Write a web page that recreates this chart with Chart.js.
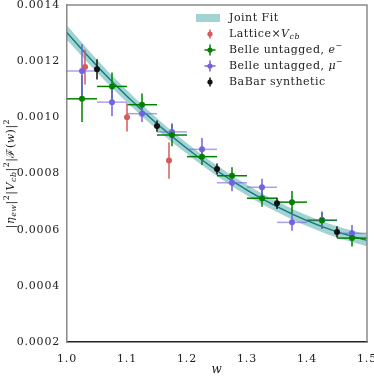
<!DOCTYPE html>
<html>
<head>
<meta charset="utf-8">
<script src="https://cdn.jsdelivr.net/npm/chart.js@4.4.1/dist/chart.umd.min.js"></script>
<style>
  html, body { margin: 0; padding: 0; background: #fff; }
  #wrap { width: 374px; height: 376px; }
</style>
</head>
<body>
<div id="wrap"><canvas id="chart" width="374" height="376"></canvas></div>
<script>
// values (y in units of 1)
const yTicks = [0.0002, 0.0004, 0.0006, 0.0008, 0.0010, 0.0012, 0.0014];
const xTicks = [1.0, 1.1, 1.2, 1.3, 1.4, 1.5];

const wFit = [1.0, 1.05, 1.1, 1.15, 1.2, 1.25, 1.3, 1.35, 1.4, 1.45, 1.5];
const fitCentral = [1.301e-3, 1.183e-3, 1.075e-3, 0.977e-3, 0.889e-3, 0.810e-3, 0.741e-3, 0.682e-3, 0.632e-3, 0.592e-3, 0.562e-3];
const fitErr = [26e-6, 23e-6, 21e-6, 20e-6, 19e-6, 19e-6, 19e-6, 19e-6, 19e-6, 20e-6, 21e-6];

const wBelle = [1.025, 1.075, 1.125, 1.175, 1.225, 1.275, 1.325, 1.375, 1.425, 1.475];
const wBinHalf = 0.025;
const belleE = [1.066e-3, 1.110e-3, 1.045e-3, 0.937e-3, 0.860e-3, 0.792e-3, 0.712e-3, 0.698e-3, 0.633e-3, 0.570e-3];
const belleEErr = [83e-6, 50e-6, 40e-6, 40e-6, 30e-6, 30e-6, 30e-6, 40e-6, 30e-6, 30e-6];
const belleMu = [1.165e-3, 1.054e-3, 1.013e-3, 0.948e-3, 0.886e-3, 0.767e-3, 0.751e-3, 0.626e-3, 0.635e-3, 0.587e-3];
const belleMuErr = [95e-6, 50e-6, 30e-6, 30e-6, 40e-6, 30e-6, 30e-6, 30e-6, 30e-6, 30e-6];

const wBabar = [1.05, 1.15, 1.25, 1.35, 1.45];
const babar = [1.171e-3, 0.969e-3, 0.816e-3, 0.694e-3, 0.592e-3];
const babarErr = [36e-6, 20e-6, 20e-6, 20e-6, 20e-6];

const wLattice = [1.03, 1.10, 1.17];
const lattice = [1.179e-3, 1.000e-3, 0.846e-3];
const latticeErr = [62e-6, 50e-6, 65e-6];

const SERIF = '"DejaVu Serif", serif';
const RED = '#d65a5a';
const GREEN = '#008000';
const PURPLE = '#7163e0';
const BLACK = '#111111';
const TEAL = '#0b7b7b';
const BAND = 'rgba(70,165,165,0.5)';

const pts = (xs, ys) => xs.map((x, i) => ({ x: x, y: ys[i] }));

const errSets = [
  { w: wBelle, v: belleE, e: belleEErr, xe: wBinHalf, color: GREEN, hColor: GREEN },
  { w: wBelle, v: belleMu, e: belleMuErr, xe: wBinHalf, color: PURPLE, hColor: 'rgba(113,99,224,0.6)' },
  { w: wLattice, v: lattice, e: latticeErr, xe: 0, color: RED, hColor: RED },
  { w: wBabar, v: babar, e: babarErr, xe: 0, color: BLACK, hColor: BLACK }
];

// error bars go on top of the fit, under the markers
const errorBars = {
  id: 'errorBars',
  afterDatasetDraw(chart, args) {
    if (args.index !== 2) return;
    const ctx = chart.ctx, xs = chart.scales.x, ys = chart.scales.y;
    ctx.save();
    ctx.lineWidth = 1.5;
    errSets.forEach(s => {
      s.w.forEach((w, i) => {
        const px = xs.getPixelForValue(w);
        const py = ys.getPixelForValue(s.v[i]);
        if (s.xe) {
          ctx.strokeStyle = s.hColor;
          ctx.beginPath();
          ctx.moveTo(xs.getPixelForValue(w - s.xe), py);
          ctx.lineTo(xs.getPixelForValue(w + s.xe), py);
          ctx.stroke();
        }
        ctx.strokeStyle = s.color;
        ctx.beginPath();
        ctx.moveTo(px, ys.getPixelForValue(s.v[i] - s.e[i]));
        ctx.lineTo(px, ys.getPixelForValue(s.v[i] + s.e[i]));
        ctx.stroke();
      });
    });
    ctx.restore();
  }
};

// draws a list of [text, style] pieces; style: i = italic, sub, sup
function richText(ctx, parts, x, y, size) {
  let cx = x;
  parts.forEach(p => {
    const st = p[1] || '';
    const small = st.includes('sub') || st.includes('sup');
    const fs = small ? size * 0.72 : size;
    ctx.font = (st.includes('i') ? 'italic ' : '') + fs + 'px ' + SERIF;
    let dy = 0;
    if (st.includes('sub')) dy = size * 0.3;
    if (st.includes('sup')) dy = -size * 0.38;
    ctx.fillText(p[0], cx, y + dy);
    cx += ctx.measureText(p[0]).width;
  });
  return cx - x;
}

const decorations = {
  id: 'decorations',
  beforeDraw(chart) {
    chart.ctx.letterSpacing = '0.8px';
  },
  afterDraw(chart) {
    const ctx = chart.ctx, a = chart.chartArea;
    ctx.save();
    // top and right spines
    ctx.strokeStyle = '#8a8a8a';
    ctx.lineWidth = 1.5;
    ctx.beginPath();
    ctx.moveTo(a.left, a.top);
    ctx.lineTo(a.right, a.top);
    ctx.lineTo(a.right, a.bottom);
    ctx.stroke();

    ctx.fillStyle = '#222';
    ctx.textBaseline = 'middle';
    ctx.letterSpacing = '0.5px';

    // x title
    ctx.textAlign = 'center';
    ctx.font = 'italic 12px ' + SERIF;
    ctx.fillText('w', (a.left + a.right) / 2, 370);

    // y title
    const yTitle = [['|'], ['η', 'i'], ['ew', 'i sub'], ['|'], ['2', 'sup'], ['|'], ['V', 'i'], ['cb', 'i sub'],
      ['|'], ['2', 'sup'], ['|ℱ('], ['w', 'i'], [')|'], ['2', 'sup']];
    ctx.textAlign = 'left';
    ctx.save();
    ctx.translate(11, (a.top + a.bottom) / 2);
    ctx.rotate(-Math.PI / 2);
    ctx.globalAlpha = 0;
    const tw = richText(ctx, yTitle, 0, 0, 11);
    ctx.globalAlpha = 1;
    richText(ctx, yTitle, -tw / 2, 0, 11);
    ctx.restore();

    // legend
    const lx = 229, mx = 210;
    const rows = [18, 34, 50, 66, 82];
    ctx.fillStyle = BAND;
    ctx.fillRect(196, rows[0] - 4, 24, 8);
    const marks = [[RED, 0, 4.5], [GREEN, 5.5, 5.5], [PURPLE, 5.5, 5.5], [BLACK, 0, 4.5]];
    marks.forEach((m, i) => {
      const y = rows[i + 1];
      ctx.strokeStyle = m[0];
      ctx.lineWidth = 1.5;
      ctx.beginPath();
      ctx.moveTo(mx, y - m[2]);
      ctx.lineTo(mx, y + m[2]);
      if (m[1]) {
        ctx.moveTo(mx - m[1], y);
        ctx.lineTo(mx + m[1], y);
      }
      ctx.stroke();
      ctx.fillStyle = m[0];
      ctx.beginPath();
      ctx.arc(mx, y, 2.6, 0, Math.PI * 2);
      ctx.fill();
    });
    ctx.fillStyle = '#222';
    const labels = [
      [['Joint Fit']],
      [['Lattice×'], ['V', 'i'], ['cb', 'i sub']],
      [['Belle untagged, '], ['e', 'i'], ['−', 'sup']],
      [['Belle untagged, '], ['μ', 'i'], ['−', 'sup']],
      [['BaBar synthetic']]
    ];
    labels.forEach((l, i) => richText(ctx, l, lx, rows[i], 11));
    ctx.restore();
  }
};

const scatterSet = (label, xs, ys, color) => ({
  label: label,
  type: 'scatter',
  data: pts(xs, ys),
  pointRadius: 3,
  pointHoverRadius: 3,
  pointBackgroundColor: color,
  pointBorderWidth: 0,
  order: 1
});

new Chart(document.getElementById('chart'), {
  type: 'scatter',
  data: {
    datasets: [
      {
        label: 'Joint Fit upper',
        type: 'line',
        data: pts(wFit, fitCentral.map((v, i) => v + fitErr[i])),
        borderWidth: 0,
        pointRadius: 0,
        tension: 0.4,
        fill: '+1',
        backgroundColor: BAND,
        order: 3
      },
      {
        label: 'Joint Fit lower',
        type: 'line',
        data: pts(wFit, fitCentral.map((v, i) => v - fitErr[i])),
        borderWidth: 0,
        pointRadius: 0,
        tension: 0.4,
        fill: false,
        order: 3
      },
      {
        label: 'Joint Fit',
        type: 'line',
        data: pts(wFit, fitCentral),
        borderColor: TEAL,
        borderWidth: 1.3,
        pointRadius: 0,
        tension: 0.4,
        fill: false,
        order: 2
      },
      scatterSet('Belle untagged, e-', wBelle, belleE, GREEN),
      scatterSet('Belle untagged, mu-', wBelle, belleMu, PURPLE),
      scatterSet('Lattice x Vcb', wLattice, lattice, RED),
      scatterSet('BaBar synthetic', wBabar, babar, BLACK)
    ]
  },
  options: {
    responsive: false,
    animation: false,
    devicePixelRatio: 1,
    layout: { padding: { left: 0, right: 7, top: 5, bottom: 0 } },
    plugins: {
      legend: { display: false },
      tooltip: { enabled: false }
    },
    scales: {
      x: {
        type: 'linear',
        min: 1.0,
        max: 1.5,
        afterBuildTicks: s => { s.ticks = xTicks.map(v => ({ value: v })); },
        ticks: {
          callback: v => v.toFixed(1),
          color: '#222',
          font: { family: SERIF, size: 11 },
          padding: 11,
          maxRotation: 0
        },
        grid: { display: false, drawTicks: false },
        border: { color: '#222', width: 1.5 },
        afterFit: s => { s.height = 34; s.paddingLeft = 0; s.paddingRight = 0; }
      },
      y: {
        min: 0.0002,
        max: 0.0014,
        afterBuildTicks: s => { s.ticks = yTicks.map(v => ({ value: v })); },
        ticks: {
          callback: v => v.toFixed(4),
          color: '#222',
          font: { family: SERIF, size: 11 },
          padding: 7
        },
        grid: { display: false, drawTicks: false },
        border: { color: '#8a8a8a', width: 1.5 },
        afterFit: s => { s.width = 67; s.paddingTop = 0; s.paddingBottom = 0; }
      }
    }
  },
  plugins: [errorBars, decorations]
});
</script>
</body>
</html>
